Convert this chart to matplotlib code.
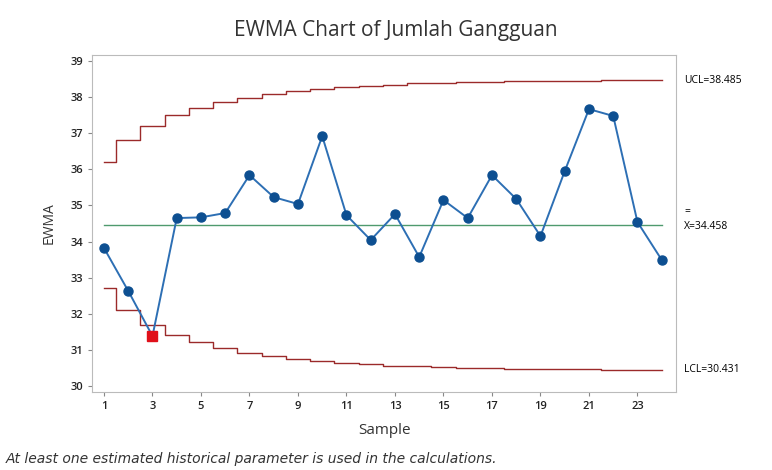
import matplotlib
matplotlib.use("Agg")
import matplotlib.pyplot as plt
import numpy as np

# EWMA values per sample
sample = list(range(1, 25))
ewma = [33.82, 32.63, 31.38, 34.65, 34.67, 34.79, 35.84, 35.23, 35.04, 36.92,
        34.73, 34.04, 34.76, 33.57, 35.15, 34.65, 35.84, 35.18, 34.15, 35.95,
        37.67, 37.48, 34.54, 33.49]

# control limits per sample
ucl = [36.21, 36.82, 37.21, 37.50, 37.71, 37.87, 37.99, 38.09, 38.17, 38.23,
       38.28, 38.32, 38.35, 38.38, 38.40, 38.42, 38.43, 38.44, 38.45, 38.46,
       38.46, 38.47, 38.47, 38.47]
lcl = [32.70, 32.10, 31.70, 31.42, 31.21, 31.05, 30.92, 30.82, 30.75, 30.68,
       30.64, 30.60, 30.56, 30.54, 30.52, 30.50, 30.49, 30.48, 30.47, 30.46,
       30.46, 30.45, 30.45, 30.44]
center = 34.458
ucl_lbl = "UCL=38.485"
lcl_lbl = "LCL=30.431"
ctr_lbl = "X=34.458"
out_idx = [2]  # sample 3 below LCL

plt.rcParams['font.family'] = ['Open Sans', 'DejaVu Sans']

fig = plt.figure(figsize=(7.72, 4.70), dpi=100)
ax = fig.add_axes([0.119, 0.166, 0.757, 0.717])

ax.plot(sample, ucl, drawstyle='steps-mid', color='#9b2a2a', lw=1.0)
ax.plot(sample, lcl, drawstyle='steps-mid', color='#9b2a2a', lw=1.0)
ax.plot([sample[0], sample[-1]], [center, center], color='#4f9a6e', lw=1.0)

ax.plot(sample, ewma, color='#2d6fb4', lw=1.4, zorder=3)
ax.plot(sample, ewma, 'o', color='#0d4f91', ms=6.5, zorder=4)
ax.plot([sample[i] for i in out_idx], [ewma[i] for i in out_idx], 's',
        color='#e0101a', ms=6.5, zorder=5)

ax.set_xlim(0.5, 24.6)
ax.set_ylim(29.83, 39.17)
ax.set_xticks(range(1, 24, 2))
ax.set_yticks(range(30, 40))
ax.tick_params(labelsize=8, length=3, color='#888888', labelcolor='#222222')
for lab in ax.get_xticklabels() + ax.get_yticklabels():
    lab.set_fontweight('semibold')
for s in ax.spines.values():
    s.set_color('#bbbbbb')

ax.set_xlabel("Sample", fontsize=11, color='#333333', labelpad=8)
ax.set_ylabel("EWMA", fontsize=10, color='#333333', labelpad=10)

tr = ax.get_yaxis_transform()
ax.text(1.014, ucl[-1], ucl_lbl, transform=tr, fontsize=7.5, va='center')
ax.text(1.014, lcl[-1], lcl_lbl, transform=tr, fontsize=7.5, va='center')
ax.text(1.014, center - 0.04, ctr_lbl, transform=tr, fontsize=7.5, va='center')
ax.text(1.014, center + 0.36, "=", transform=tr, fontsize=7.5, va='center')

fig.text(0.513, 0.936, "EWMA Chart of Jumlah Gangguan", ha='center',
         va='center', fontsize=15, color='#333333', fontweight='medium')
fig.text(0.008, 0.014, "At least one estimated historical parameter is used in the calculations.",
         fontsize=10, style='italic', color='#333333', family='DejaVu Sans')

fig.savefig("out.png", dpi=100)
